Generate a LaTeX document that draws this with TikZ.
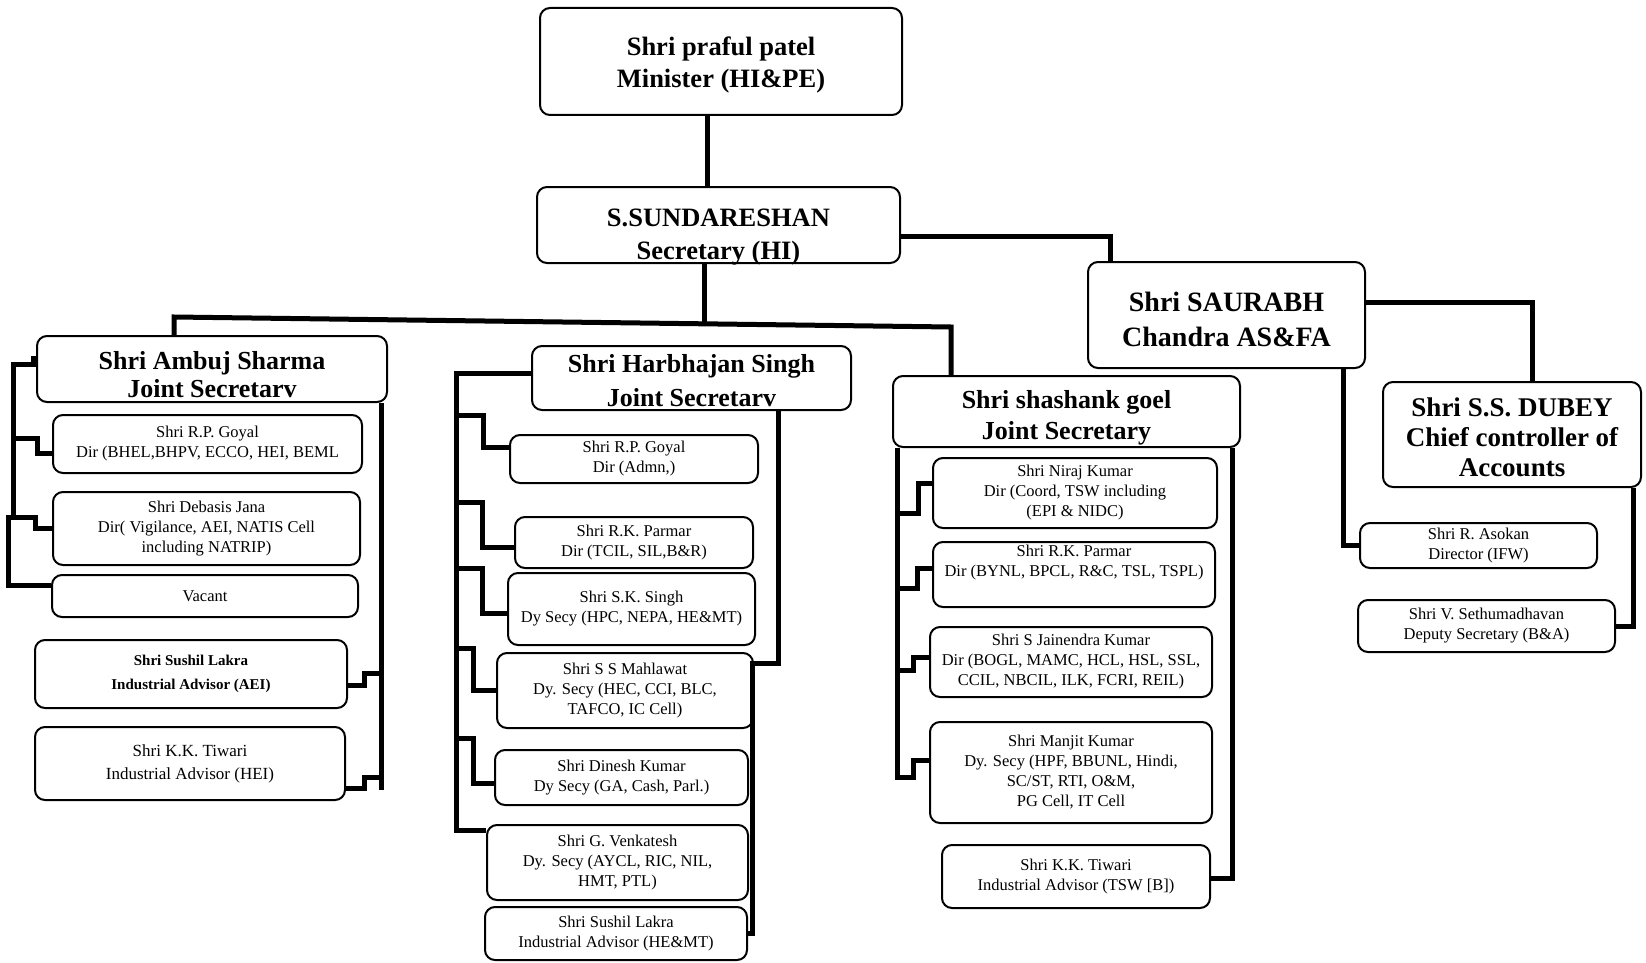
\documentclass[tikz,border=0pt]{standalone}
\usepackage{fontspec}
\setmainfont{Liberation Serif}
\begin{document}
\begin{tikzpicture}[x=1pt,y=-1pt,
  box/.style={draw, line width=2pt, rounded corners=10pt, align=center, inner sep=0pt,
              font=\fontsize{16.5}{20}\selectfont},
  bbox/.style={box, font=\bfseries\fontsize{15}{24}\selectfont},
  head/.style={box, font=\bfseries\fontsize{26}{28}\selectfont},
  conn/.style={line width=5pt, line join=miter, line cap=butt}]
\fill[white] (0,0) rectangle (1646,963);
\useasboundingbox (0,0) rectangle (1646,963);

% ---- top levels
\node[head, font=\bfseries\fontsize{26.5}{32}\selectfont, minimum width=362, minimum height=107] (min) at (721,61.5)
  {\rule{0pt}{21pt}Shri praful patel\\\smash{Minister (HI\&PE)}};
\node[head, font=\bfseries\fontsize{26.5}{33}\selectfont, minimum width=363, minimum height=76] (sec) at (718.5,225)
  {\rule{0pt}{35pt}S.SUNDARESHAN\\\smash{Secretary (HI)}};
\node[head, font=\bfseries\fontsize{28}{35}\selectfont, minimum width=277, minimum height=106] (saur) at (1226.5,315)
  {\rule{0pt}{29pt}Shri SAURABH\\Chandra AS\&FA};
\node[head, font=\bfseries\fontsize{27}{30}\selectfont, minimum width=258, minimum height=105] (dubey) at (1512,434.5)
  {\rule{0pt}{25pt}Shri S.S. DUBEY\\Chief controller of\\Accounts};
\node[box, minimum width=237, minimum height=45] (asokan) at (1478.5,545.5)
  {Shri R. Asokan\\Director (IFW)};
\node[box, minimum width=257, minimum height=52] (sethu) at (1486.5,626)
  {Shri V. Sethumadhavan\\Deputy Secretary (B\&A)};

% ---- Ambuj Sharma
\node[head, minimum width=350, minimum height=66] (ambuj) at (212,369)
  {\rule{0pt}{30pt}Shri Ambuj Sharma\\Joint Secretarv};
\node[box, minimum width=309, minimum height=58] (a1) at (207.5,444)
  {Shri R.P. Goyal\\Dir (BHEL,BHPV, ECCO, HEI, BEML};
\node[box, minimum width=307, minimum height=73] (a2) at (206.5,528.5)
  {Shri Debasis Jana\\Dir( Vigilance, AEI, NATIS Cell\\including NATRIP)};
\node[box, minimum width=306, minimum height=42] (a3) at (205,596)
  {Vacant};
\node[bbox, minimum width=312, minimum height=68] (a4) at (191,674)
  {Shri Sushil Lakra\\Industrial Advisor (AEI)};
\node[box, font=\fontsize{17}{23}\selectfont, minimum width=310, minimum height=73] (a5) at (190,763.5)
  {Shri K.K. Tiwari\\Industrial Advisor (HEI)};

% ---- Harbhajan Singh
\node[head, font=\bfseries\fontsize{26}{34}\selectfont, minimum width=319, minimum height=64] (harb) at (691.5,378)
  {\rule{0pt}{24pt}Shri Harbhajan Singh\\Joint Secretarv};
\node[box, minimum width=248, minimum height=48] (h1) at (634,459)
  {Shri R.P. Goyal\\Dir (Admn,)};
\node[box, minimum width=238, minimum height=51] (h2) at (634,542.5)
  {Shri R.K. Parmar\\Dir (TCIL, SIL,B\&R)};
\node[box, minimum width=247, minimum height=72] (h3) at (631.5,609)
  {Shri S.K. Singh\\Dy Secy (HPC, NEPA, HE\&MT)};
\node[box, minimum width=256, minimum height=75] (h4) at (625,690.5)
  {Shri S S Mahlawat\\Dy. Secy (HEC, CCI, BLC,\\TAFCO, IC Cell)};
\node[box, minimum width=253, minimum height=55] (h5) at (621.5,777.5)
  {Shri Dinesh Kumar\\Dy Secy (GA, Cash, Parl.)};
\node[box, minimum width=261, minimum height=75] (h6) at (617.5,862.5)
  {Shri G. Venkatesh\\Dy. Secy (AYCL, RIC, NIL,\\HMT, PTL)};
\node[box, minimum width=262, minimum height=53] (h7) at (616,933.5)
  {Shri Sushil Lakra\\Industrial Advisor (HE\&MT)};

% ---- Shashank goel
\node[head, font=\bfseries\fontsize{26}{31}\selectfont, minimum width=347, minimum height=71] (shash) at (1066.5,411.5)
  {\rule{0pt}{24pt}Shri shashank goel\\\smash{Joint Secretary}};
\node[box, minimum width=284, minimum height=70] (s1) at (1075,493)
  {Shri Niraj Kumar\\Dir (Coord, TSW including\\(EPI \& NIDC)};
\node[box, minimum width=282, minimum height=65] (s2) at (1074,574.5)
  {Shri R.K. Parmar\\Dir (BYNL, BPCL, R\&C, TSL, TSPL)\\[8pt]};
\node[box, minimum width=282, minimum height=70] (s3) at (1071,662)
  {Shri S Jainendra Kumar\\Dir (BOGL, MAMC, HCL, HSL, SSL,\\CCIL, NBCIL, ILK, FCRI, REIL)};
\node[box, minimum width=282, minimum height=101] (s4) at (1071,772.5)
  {Shri Manjit Kumar\\Dy. Secy (HPF, BBUNL, Hindi,\\SC/ST, RTI, O\&M,\\PG Cell, IT Cell};
\node[box, minimum width=268, minimum height=63] (s5) at (1076,876.5)
  {Shri K.K. Tiwari\\Industrial Advisor (TSW [B])};

% ---- spine coordinates
\coordinate (spA) at (13,0);
\coordinate (spAr) at (381,0);
\coordinate (spH) at (456,0);
\coordinate (spS) at (897,0);

% ---- connectors: top
\draw[conn] (min.south -| 707,0) -- (sec.north -| 707,0);
\draw[conn] (sec.south -| 704,0) -- (704,323.8);
\draw[conn] (ambuj.north -| 174,0) -- (174,317) -- (951,327) -- (shash.north -| 951,0);
\draw[conn] (sec.east |- 0,236) -| (saur.north -| 1110,0);
\draw[conn] (saur.east |- 0,302) -| (dubey.north -| 1532,0);
\draw[conn] (saur.south -| 1343,0) |- (asokan.west);
\draw[conn] (dubey.south -| 1633,0) |- (sethu.east);

% ---- Ambuj connectors
\draw[conn] (ambuj.west |- 0,358) -- (33,358) -- (33,364) -- (spA |- 0,364) -- (spA |- 0,517)
  -- (8,517) -- (8,585) -- (a3.west |- 0,585);
\draw[conn] (spA |- 0,438) -- (37,438) -- (37,453) -- (a1.west |- 0,453);
\draw[conn] (spA |- 0,517) -- (35,517) -- (35,528) -- (a2.west |- 0,528);
\draw[conn] (ambuj.south -| spAr) -- (spAr |- 0,790);
\draw[conn] (spAr |- 0,673) -- (364,673) -- (364,685) -- (a4.east |- 0,685);
\draw[conn] (spAr |- 0,777) -- (364,777) -- (364,788) -- (a5.east |- 0,788);

% ---- Harbhajan connectors
\draw[conn] (harb.west |- 0,373) -- (spH |- 0,373) -- (spH |- 0,830) -- (h6.west |- 0,830);
\draw[conn] (spH |- 0,415) -- (483,415) -- (483,447) -- (h1.west |- 0,447);
\draw[conn] (spH |- 0,502) -- (482,502) -- (482,547) -- (h2.west |- 0,547);
\draw[conn] (spH |- 0,568) -- (482,568) -- (482,613) -- (h3.west |- 0,613);
\draw[conn] (spH |- 0,648) -- (473,648) -- (473,690) -- (h4.west |- 0,690);
\draw[conn] (spH |- 0,738) -- (473,738) -- (473,783) -- (h5.west |- 0,783);
\draw[conn] (harb.south -| 778,0) -- (778,663) -- (752,663) |- (h7.east);

% ---- Shashank connectors
\draw[conn] (shash.south -| spS) -- (spS |- 0,780);
\draw[conn] (spS |- 0,513) -- (918,513) -- (918,483) -- (s1.west |- 0,483);
\draw[conn] (spS |- 0,588) -- (917,588) -- (917,568) -- (s2.west |- 0,568);
\draw[conn] (spS |- 0,670) -- (913,670) -- (913,657) -- (s3.west |- 0,657);
\draw[conn] (spS |- 0,777) -- (913,777) -- (913,760) -- (s4.west |- 0,760);
\draw[conn] (shash.south -| 1232,0) |- (s5.east |- 0,878);
\end{tikzpicture}
\end{document}
